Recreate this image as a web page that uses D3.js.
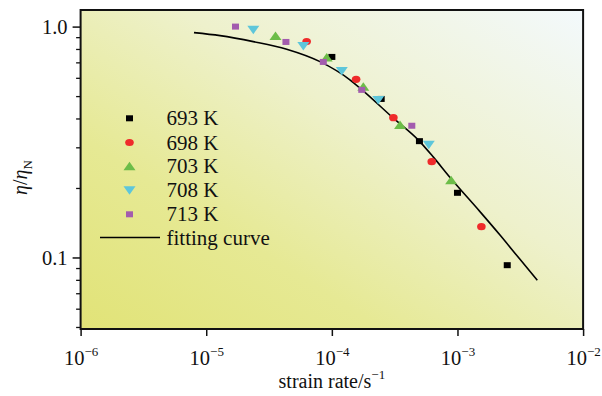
<!DOCTYPE html>
<html>
<head>
<meta charset="utf-8">
<script src="https://cdn.jsdelivr.net/npm/d3@7"></script>
<style>
  html, body { margin: 0; padding: 0; background: #ffffff; }
  svg { display: block; }
  text { font-family: "Liberation Serif", "Times New Roman", serif; fill: #111; }
</style>
</head>
<body>
<svg id="chart" width="602" height="396"></svg>
<script>
// Normalised viscosity vs. strain rate at five temperatures
const rate693 = [1.0e-4, 2.47e-4, 4.98e-4, 1.0e-3, 2.49e-3];
const eta693  = [0.739, 0.486, 0.319, 0.1906, 0.0926];
const rate698 = [6.3e-5, 1.56e-4, 3.09e-4, 6.24e-4, 1.55e-3];
const eta698  = [0.861, 0.591, 0.403, 0.260, 0.136];
const rate703 = [3.56e-5, 9.1e-5, 1.78e-4, 3.49e-4, 8.9e-4];
const eta703  = [0.911, 0.734, 0.549, 0.375, 0.216];
const rate708 = [2.37e-5, 5.93e-5, 1.20e-4, 2.34e-4, 5.91e-4];
const eta708  = [0.968, 0.825, 0.642, 0.481, 0.308];
const rate713 = [1.71e-5, 4.31e-5, 8.55e-5, 1.73e-4, 4.33e-4];
const eta713  = [1.0, 0.858, 0.703, 0.532, 0.372];

// Fitting curve samples
const fitRate = [7.99e-6, 1.29e-5, 2.37e-5, 4.37e-5, 8.05e-5, 1.40e-4, 1.74e-4, 3.09e-4, 4.95e-4, 6.43e-4, 8.73e-4, 1.51e-3, 2.18e-3, 3.11e-3, 4.32e-3];
const fitEta  = [0.942, 0.914, 0.861, 0.798, 0.705, 0.587, 0.532, 0.401, 0.320, 0.272, 0.222, 0.158, 0.1251, 0.0989, 0.0797];

const seriesNames = ["693 K", "698 K", "703 K", "708 K", "713 K"];
const xTicks = [1e-6, 1e-5, 1e-4, 1e-3, 1e-2];
const xTickExp = ["\u22126", "\u22125", "\u22124", "\u22123", "\u22122"];
const yTicksMajor = [0.1, 1.0];
const yTickLabels = ["0.1", "1.0"];
const yTicksMinor = [0.05, 0.06, 0.07, 0.08, 0.09, 0.2, 0.3, 0.4, 0.5, 0.6, 0.7, 0.8, 0.9];

const series = [
  { name: seriesNames[0], x: rate693, y: eta693, shape: "square",   color: "#000000" },
  { name: seriesNames[1], x: rate698, y: eta698, shape: "circle",   color: "#ef2b2b" },
  { name: seriesNames[2], x: rate703, y: eta703, shape: "triUp",    color: "#6cbd48" },
  { name: seriesNames[3], x: rate708, y: eta708, shape: "triDown",  color: "#5ec6da" },
  { name: seriesNames[4], x: rate713, y: eta713, shape: "square",   color: "#a35cae" }
];

const svg = d3.select("#chart");
const plotLeft = 80.6, plotRight = 583.1, plotTop = 10, plotBottom = 329;

const x = d3.scaleLog().domain([1e-6, 1e-2]).range([plotLeft, plotRight]);
const y = d3.scaleLog().domain([0.049, 1.18]).range([plotBottom, plotTop]);

// Background gradient: yellow lower-left fading to pale blue-white upper-right
const defs = svg.append("defs");
const grad = defs.append("linearGradient")
  .attr("id", "bg").attr("x1", "0").attr("y1", "1").attr("x2", "1").attr("y2", "0");
grad.append("stop").attr("offset", "0").attr("stop-color", "#e1e377");
grad.append("stop").attr("offset", "0.3").attr("stop-color", "#e6e994");
grad.append("stop").attr("offset", "0.6").attr("stop-color", "#eef1cc");
grad.append("stop").attr("offset", "1").attr("stop-color", "#f3f9fc");

svg.append("rect")
  .attr("x", plotLeft).attr("y", plotTop)
  .attr("width", plotRight - plotLeft).attr("height", plotBottom - plotTop)
  .attr("fill", "url(#bg)");

// X axis
const xAxis = svg.append("g")
  .attr("transform", `translate(0,${plotBottom})`)
  .call(d3.axisBottom(x).tickValues(xTicks).tickSize(7).tickFormat(""));
xAxis.select(".domain").remove();
xAxis.selectAll(".tick line").attr("stroke", "#111").attr("stroke-width", 1.5);
xAxis.selectAll(".tick").each(function(d, i) {
  const t = d3.select(this).append("text")
    .attr("y", 36).attr("text-anchor", "middle")
    .style("font-size", "20.5px").attr("fill", "#111");
  t.append("tspan").text("10");
  t.append("tspan").attr("dy", -9).style("font-size", "13px").text(xTickExp[i]);
});

// Y axis: major and minor ticks
const yAxis = svg.append("g")
  .attr("transform", `translate(${plotLeft},0)`)
  .call(d3.axisLeft(y).tickValues(yTicksMajor).tickSize(8)
    .tickFormat((d, i) => yTickLabels[i]));
yAxis.select(".domain").remove();
yAxis.selectAll(".tick line").attr("stroke", "#111").attr("stroke-width", 1.5);
yAxis.selectAll(".tick text").attr("x", -13).attr("dy", "0.34em")
  .style("font-size", "20.5px").attr("fill", "#111")
  .style("font-family", "'Liberation Serif', serif");

const yMinor = svg.append("g")
  .attr("transform", `translate(${plotLeft},0)`)
  .call(d3.axisLeft(y).tickValues(yTicksMinor).tickSize(4.5).tickFormat(""));
yMinor.select(".domain").remove();
yMinor.selectAll(".tick line").attr("stroke", "#111").attr("stroke-width", 1.3);

// Frame
svg.append("rect")
  .attr("x", plotLeft).attr("y", plotTop)
  .attr("width", plotRight - plotLeft).attr("height", plotBottom - plotTop)
  .attr("fill", "none").attr("stroke", "#111").attr("stroke-width", 2);

// Fitting curve
const fitData = fitRate.map((r, i) => [r, fitEta[i]]);
svg.append("path")
  .datum(fitData)
  .attr("fill", "none").attr("stroke", "#000").attr("stroke-width", 1.6)
  .attr("d", d3.line().x(d => x(d[0])).y(d => y(d[1])).curve(d3.curveMonotoneX));

// Marker drawing
function drawMarker(g, shape, color, cx, cy) {
  if (shape === "square") {
    g.append("rect").attr("x", cx - 3.5).attr("y", cy - 3).attr("width", 7).attr("height", 6)
      .attr("fill", color);
  } else if (shape === "circle") {
    g.append("ellipse").attr("cx", cx).attr("cy", cy).attr("rx", 4.3).attr("ry", 3.6)
      .attr("fill", color);
  } else if (shape === "triUp") {
    g.append("path").attr("d", `M${cx - 6},${cy + 4} L${cx + 6},${cy + 4} L${cx},${cy - 4.5} Z`)
      .attr("fill", color);
  } else if (shape === "triDown") {
    g.append("path").attr("d", `M${cx - 6},${cy - 4} L${cx + 6},${cy - 4} L${cx},${cy + 4.5} Z`)
      .attr("fill", color);
  }
}

const marks = svg.append("g");
series.forEach(s => {
  s.x.forEach((r, i) => drawMarker(marks, s.shape, s.color, x(r), y(s.y[i])));
});

// Legend
const legend = svg.append("g");
const rowY = [118.3, 142.5, 166.3, 190.3, 214.3];
series.forEach((s, i) => {
  drawMarker(legend, s.shape, s.color, 129.5, rowY[i]);
  legend.append("text").attr("x", 166.5).attr("y", rowY[i]).attr("dy", "0.34em")
    .style("font-size", "21px").text(s.name);
});
legend.append("line").attr("x1", 100).attr("x2", 160).attr("y1", 237.5).attr("y2", 237.5)
  .attr("stroke", "#000").attr("stroke-width", 1.6);
legend.append("text").attr("x", 166.5).attr("y", 237.5).attr("dy", "0.34em")
  .style("font-size", "21px").text("fitting curve");

// Axis titles
const xt = svg.append("text").attr("x", (plotLeft + plotRight) / 2).attr("y", 388)
  .attr("text-anchor", "middle").style("font-size", "20px");
xt.append("tspan").text("strain rate/s");
xt.append("tspan").attr("dy", -9).style("font-size", "13px").text("\u22121");

const yt = svg.append("text")
  .attr("transform", `translate(27,${(plotTop + plotBottom) / 2 + 8}) rotate(-90)`)
  .attr("text-anchor", "middle").style("font-size", "20px");
yt.append("tspan").style("font-style", "italic").text("\u03b7");
yt.append("tspan").text("/");
yt.append("tspan").style("font-style", "italic").text("\u03b7");
yt.append("tspan").attr("dy", 5).style("font-size", "13px").text("N");
</script>
</body>
</html>
